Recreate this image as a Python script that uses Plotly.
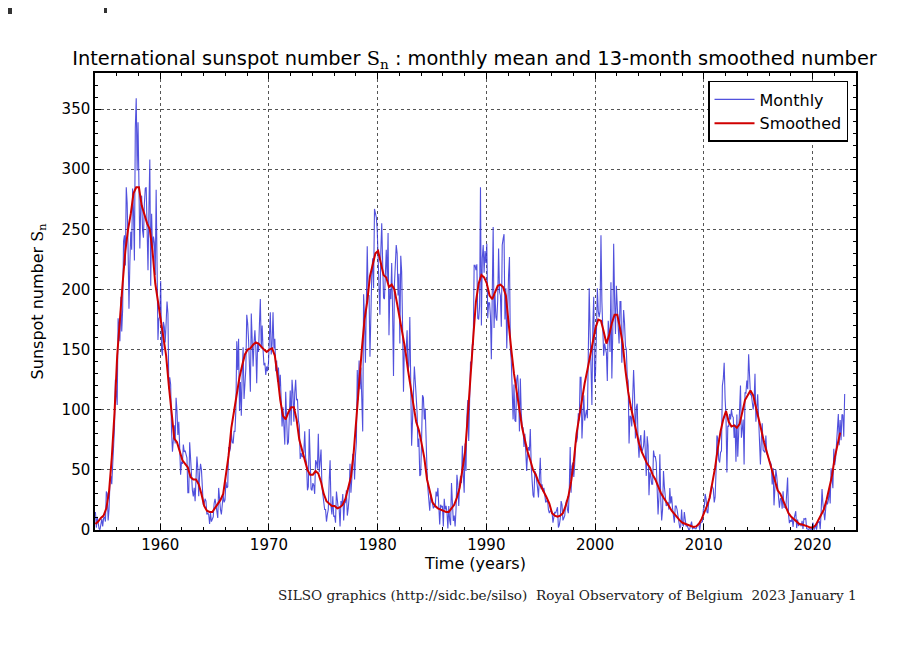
import plotly.graph_objects as go

# ---------------- data ----------------
monthly_by_year = {
    1954: [15, 2, 11, 3, 1, 0.3, 7, 9, 3, 10, 11, 7],
    1955: [32, 30, 8, 17, 40, 45, 38, 58, 62, 85, 125, 108],
    1956: [104, 176, 168, 157, 194, 165, 183, 240, 245, 220, 285, 272],
    1957: [234, 184, 223, 248, 233, 284, 265, 224, 334, 359, 299, 339],
    1958: [287, 234, 270, 278, 249, 243, 271, 284, 285, 257, 216, 266],
    1959: [308, 203, 263, 231, 244, 239, 212, 283, 206, 158, 176, 177],
    1960: [207, 150, 145, 173, 169, 156, 172, 190, 180, 117, 127, 121],
    1961: [82, 65, 75, 87, 72, 110, 99, 79, 90, 53, 46, 57],
    1962: [55, 71, 65, 66, 62, 60, 31, 31, 73, 56, 38, 33],
    1963: [28, 35, 24, 42, 61, 51, 28, 47, 55, 50, 33, 21],
    1964: [22, 26, 24, 13, 14, 13, 5, 14, 7, 9, 11, 22],
    1965: [26, 21, 17, 10, 35, 23, 17, 13, 25, 29, 23, 25],
    1966: [40, 35, 36, 69, 65, 68, 81, 73, 72, 82, 82, 100],
    1967: [157, 133, 159, 99, 123, 95, 130, 152, 109, 125, 134, 179],
    1968: [172, 158, 130, 115, 180, 156, 136, 155, 166, 152, 122, 155],
    1969: [148, 171, 192, 151, 170, 150, 137, 139, 129, 136, 132, 139],
    1970: [158, 181, 146, 155, 181, 151, 159, 132, 141, 123, 135, 118],
    1971: [129, 112, 86, 102, 81, 71, 115, 87, 71, 73, 90, 116],
    1972: [87, 125, 114, 90, 114, 125, 108, 109, 91, 87, 59, 64],
    1973: [61, 61, 65, 82, 60, 56, 33, 36, 84, 43, 34, 33],
    1974: [39, 37, 30, 58, 56, 51, 80, 48, 57, 67, 36, 29],
    1975: [27, 17, 17, 7, 13, 17, 41, 58, 20, 13, 28, 11],
    1976: [12, 6, 32, 27, 18, 18, 3, 24, 20, 30, 8, 22],
    1977: [23, 33, 12, 18, 27, 55, 31, 43, 63, 63, 42, 62],
    1978: [73, 133, 108, 141, 117, 135, 100, 82, 196, 177, 139, 174],
    1979: [236, 195, 195, 144, 190, 212, 226, 201, 267, 264, 260, 250],
    1980: [226, 219, 179, 232, 255, 223, 193, 192, 219, 233, 209, 247],
    1981: [162, 200, 192, 222, 181, 128, 204, 225, 237, 230, 195, 213],
    1982: [155, 228, 215, 170, 115, 154, 148, 150, 166, 132, 137, 177],
    1983: [115, 70, 91, 110, 136, 124, 112, 98, 69, 76, 45, 46],
    1984: [75, 112, 110, 92, 101, 61, 49, 34, 21, 16, 30, 25],
    1985: [19, 18, 20, 19, 32, 28, 35, 13, 4.5, 21, 19, 20],
    1986: [3, 26, 17, 20, 15, 1.2, 20, 8, 4, 39, 17, 7.5],
    1987: [12, 3, 17, 46, 38, 20, 38, 45, 39, 70, 46, 31],
    1988: [72, 49, 94, 108, 74, 125, 140, 136, 154, 154, 220, 220],
    1989: [216, 221, 176, 175, 186, 285, 170, 226, 237, 214, 232, 222],
    1990: [238, 176, 189, 189, 178, 142, 201, 252, 168, 196, 177, 174],
    1991: [191, 234, 198, 195, 169, 237, 242, 246, 175, 201, 151, 201],
    1992: [212, 227, 150, 141, 104, 92, 121, 91, 90, 125, 129, 116],
    1993: [82, 126, 97, 86, 85, 69, 80, 59, 49, 65, 69, 66],
    1994: [84, 53, 41, 29, 27, 49, 47, 37, 35, 27, 44, 60],
    1995: [34, 38, 32, 35, 29, 23, 24, 25, 17, 14, 16, 15],
    1996: [15, 6, 11, 15, 14, 16, 19, 2, 4, 9, 24, 21],
    1997: [8, 10, 12, 21, 25, 17, 14, 33, 69, 31, 53, 56],
    1998: [44, 55, 75, 73, 77, 97, 91, 127, 127, 76, 102, 112],
    1999: [91, 97, 100, 93, 155, 201, 166, 137, 104, 170, 194, 123],
    2000: [131, 164, 201, 182, 177, 182, 245, 190, 160, 145, 155, 152],
    2001: [147, 124, 174, 165, 148, 206, 126, 163, 238, 193, 163, 203],
    2002: [180, 169, 155, 190, 190, 139, 157, 183, 172, 153, 150, 127],
    2003: [124, 72, 95, 94, 86, 121, 133, 113, 76, 102, 105, 73],
    2004: [60, 75, 79, 64, 67, 70, 83, 66, 45, 78, 70, 29],
    2005: [48, 45, 38, 38, 66, 61, 61, 56, 34, 13, 28, 63],
    2006: [25, 8, 17, 49, 36, 23, 20, 21, 23, 17, 35, 22],
    2007: [28, 18, 8, 6, 20, 20, 17, 10, 4, 1.5, 3, 17],
    2008: [5, 3, 15, 5, 3, 4, 1, 0, 1, 5, 7, 1],
    2009: [2, 2, 1, 1, 3, 5, 5, 0, 6, 7, 7, 17],
    2010: [19, 30, 26, 15, 14, 24, 26, 30, 37, 36, 34, 23],
    2011: [27.3, 48.3, 78.6, 76.1, 58.2, 56.1, 64.5, 65.8, 120.1, 125.7, 139.1, 109.3],
    2012: [94.4, 47.8, 86.6, 85.9, 96.5, 92.0, 100.1, 94.8, 93.7, 76.5, 87.6, 56.8],
    2013: [96.1, 60.9, 78.3, 107.3, 120.2, 76.7, 86.2, 91.8, 54.5, 114.4, 113.9, 124.2],
    2014: [117.0, 146.1, 128.7, 112.5, 112.5, 102.9, 100.2, 106.9, 130.0, 90.0, 103.6, 112.9],
    2015: [93.0, 66.7, 54.5, 75.3, 88.8, 66.5, 65.8, 64.4, 78.6, 63.6, 62.2, 58.0],
    2016: [57.0, 56.4, 54.1, 37.9, 51.5, 20.5, 32.4, 50.2, 44.6, 33.4, 21.4, 18.5],
    2017: [26.1, 26.4, 17.7, 32.3, 18.9, 19.2, 17.8, 32.6, 43.7, 13.2, 5.7, 8.2],
    2018: [6.8, 10.7, 2.5, 8.9, 13.1, 15.6, 1.6, 8.7, 3.3, 4.9, 4.9, 3.1],
    2019: [7.7, 0.8, 9.4, 9.1, 9.9, 1.2, 0.9, 0.5, 1.1, 0.4, 0.5, 1.5],
    2020: [6.2, 0.2, 1.5, 5.2, 0.2, 5.8, 6.1, 7.5, 0.6, 14.4, 34.0, 21.8],
    2021: [10.4, 8.2, 17.2, 24.5, 21.2, 25.0, 34.3, 22.0, 51.3, 37.4, 34.8, 67.5],
    2022: [54.0, 59.7, 78.5, 84.1, 96.5, 70.5, 91.4, 74.6, 96.0, 95.5, 77.6, 113.1],
}

# 13-month smoothed number, read each quarter (Jan, Apr, Jul, Oct)
smoothed_by_year = {
    1954: [5, 7, 10, 12], 1955: [18, 32, 60, 97], 1956: [145, 178, 205, 232],
    1957: [250, 263, 280, 285], 1958: [285, 270, 262, 255], 1959: [250, 232, 205, 190],
    1960: [177, 160, 145, 120], 1961: [95, 76, 73, 65], 1962: [58, 55, 52, 44],
    1963: [42, 42, 38, 30], 1964: [20, 16, 15, 15], 1965: [18, 22, 25, 30],
    1966: [45, 62, 85, 100], 1967: [115, 127, 137, 146], 1968: [150, 151, 154, 156],
    1969: [155, 152, 150, 148], 1970: [150, 151, 145, 128], 1971: [108, 95, 92, 98],
    1972: [102, 102, 92, 75], 1973: [66, 58, 50, 46], 1974: [46, 49, 47, 40],
    1975: [30, 24, 22, 20], 1976: [20, 18, 19, 21], 1977: [26, 34, 44, 64],
    1978: [95, 120, 150, 175], 1979: [190, 211, 222, 230], 1980: [232, 222, 212, 210],
    1981: [202, 204, 200, 188], 1982: [175, 165, 150, 133], 1983: [120, 104, 90, 83],
    1984: [72, 60, 42, 33], 1985: [23, 20, 18, 17], 1986: [16, 15, 15, 18],
    1987: [21, 27, 35, 50], 1988: [65, 95, 130, 160], 1989: [190, 205, 212, 210],
    1990: [205, 195, 192, 197], 1991: [203, 204, 202, 195], 1992: [170, 150, 130, 115],
    1993: [100, 85, 75, 65], 1994: [58, 50, 46, 40], 1995: [36, 32, 27, 22],
    1996: [14, 12, 11, 12], 1997: [14, 20, 28, 40], 1998: [57, 80, 95, 108],
    1999: [122, 133, 144, 158], 2000: [168, 175, 174, 165], 2001: [155, 162, 172, 179],
    2002: [179, 168, 155, 133], 2003: [115, 102, 92, 80], 2004: [72, 65, 60, 55],
    2005: [52, 46, 42, 36], 2006: [31, 27, 24, 20], 2007: [16, 13, 10, 8],
    2008: [6, 5, 4, 3], 2009: [2.5, 3, 5, 9], 2010: [14, 20, 27, 38],
    2011: [52, 68, 82, 92], 2012: [99, 90, 86, 87], 2013: [85, 88, 98, 108],
    2014: [112, 116, 112, 103], 2015: [94, 83, 73, 65], 2016: [57, 48, 40, 33],
    2017: [30, 25, 20, 14], 2018: [11, 9, 7, 5], 2019: [4.5, 4, 3, 2],
    2020: [2, 4, 8, 12], 2021: [17, 25, 35, 45], 2022: [60, 72, 81],
}

x_ticks = [1960, 1970, 1980, 1990, 2000, 2010, 2020]
y_ticks = [0, 50, 100, 150, 200, 250, 300, 350]

# ---------------- build series ----------------
mx, my = [], []
for yr, vals in monthly_by_year.items():
    for m, v in enumerate(vals):
        mx.append(yr + (m + 0.5) / 12)
        my.append(v)

sx, sy = [], []
for yr, vals in smoothed_by_year.items():
    for q, v in enumerate(vals):
        sx.append(yr + (3 * q + 0.5) / 12)
        sy.append(v)

fig = go.Figure()
fig.add_trace(go.Scatter(x=mx, y=my, mode="lines", name="Monthly",
                         line=dict(color="rgba(50,50,215,0.85)", width=1.1)))
fig.add_trace(go.Scatter(x=sx, y=sy, mode="lines", name="Smoothed",
                         line=dict(color="#d00000", width=2)))

SERIF = "DejaVu Serif"
axis_common = dict(
    showline=True, linecolor="black", linewidth=1.5, mirror="allticks",
    ticks="inside", ticklen=6, tickcolor="black",
    showgrid=True, gridcolor="#555555", griddash="dot", gridwidth=1,
    zeroline=False,
    tickfont=dict(family="DejaVu Sans", size=15, color="black"),
)

# page has an 8 px body margin, so the figure is 8 px smaller on each axis
W, H = 892, 650
L, R, T, B = 87, 44, 65, 128
PH = H - T - B  # plot height in px
PW = W - L - R  # plot width in px

fig.update_layout(
    width=W, height=H,
    paper_bgcolor="white", plot_bgcolor="white",
    margin=dict(l=L, r=R, t=T, b=B),
    font=dict(family="DejaVu Sans", size=15, color="black"),
    title=dict(
        text="International sunspot number <span style='font-family:" + SERIF + "'>S<sub>n</sub></span> : monthly mean and 13-month smoothed number",
        x=466.5 / W, xanchor="center", y=1 - 50 / H, yanchor="middle",
        font=dict(family="DejaVu Sans", size=19.4, color="black"),
    ),
    xaxis=dict(
        range=[1954, 2024], tickvals=x_ticks,
        title=dict(text="Time (years)", font=dict(size=16), standoff=4),
        minor=dict(dtick=2, tick0=1954, ticks="inside", ticklen=3, tickcolor="black", showgrid=False),
        **axis_common,
    ),
    yaxis=dict(
        range=[0, 380], tickvals=y_ticks,
        title=dict(text="Sunspot number <span style='font-family:" + SERIF + "'>S<sub>n</sub></span>", font=dict(size=16), standoff=14),
        minor=dict(dtick=10, tick0=0, ticks="inside", ticklen=3, tickcolor="black", showgrid=False),
        **axis_common,
    ),
    legend=dict(
        x=0.9895, xanchor="right", y=0.9825, yanchor="top",
        bordercolor="black", borderwidth=1.5, bgcolor="white",
        font=dict(size=16), tracegroupgap=0, itemwidth=40,
    ),
    showlegend=True,
)

fig.add_annotation(
    text="SILSO graphics (http://sidc.be/silso)  Royal Observatory of Belgium  2023 January 1",
    xref="paper", yref="paper", x=1.004, xanchor="right", y=-0.142, yanchor="middle",
    showarrow=False, font=dict(family="DejaVu Serif", size=13.6, color="#222222"),
)

# stray dark marks at the top-left edge of the picture
bottom_px = H - B
fig.add_shape(type="rect", xref="paper", yref="paper",
              x0=-L / PW, x1=(-L + 4) / PW, y0=(bottom_px - 6) / PH, y1=bottom_px / PH,
              fillcolor="#333333", line=dict(width=0))
fig.add_shape(type="rect", xref="paper", yref="paper",
              x0=(96 - L) / PW, x1=(99 - L) / PW, y0=(bottom_px - 5) / PH, y1=bottom_px / PH,
              fillcolor="#333333", line=dict(width=0))

fig.write_html("out.html")
